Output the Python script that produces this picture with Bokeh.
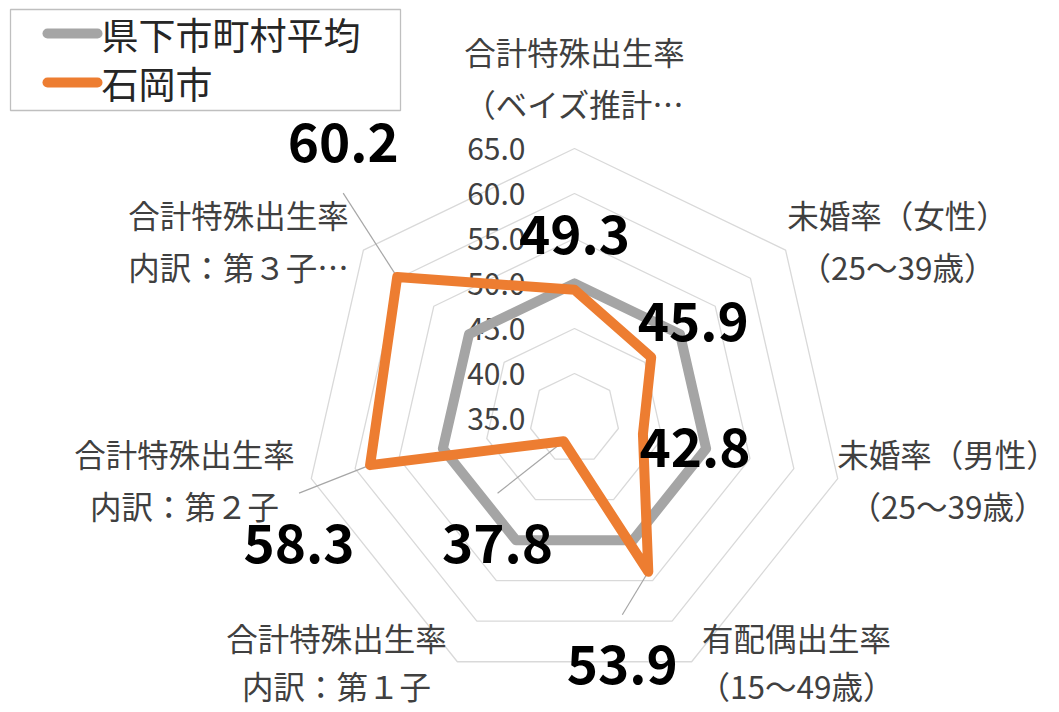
import math
from bokeh.plotting import figure
from bokeh.models import Range1d
from bokeh.core.properties import value
from bokeh.embed import file_html
from bokeh.resources import INLINE

# ---------------- data ----------------
categories_line1 = ["合計特殊出生率", "未婚率（女性）", "未婚率（男性）", "有配偶出生率",
                    "合計特殊出生率", "合計特殊出生率", "合計特殊出生率"]
categories_line2 = ["（ベイズ推計…", "（25～39歳）", "（25～39歳）", "（15～49歳）",
                    "内訳：第１子", "内訳：第２子", "内訳：第３子…"]
series_names = ["県下市町村平均", "石岡市"]
avg_values = [50.0, 50.0, 50.0, 50.0, 50.0, 50.0, 50.0]
ishioka_values = [49.3, 45.9, 42.8, 53.9, 37.8, 58.3, 60.2]
tick_values = [35.0, 40.0, 45.0, 50.0, 55.0, 60.0, 65.0]
tick_labels = ["35.0", "40.0", "45.0", "50.0", "55.0", "60.0", "65.0"]

# ---------------- layout ----------------
CX, CY = 574.0, 418.0          # centre of radar (page px)
VMIN = 35.0
SCALE = 9.0                    # px per unit
N = len(categories_line1)
FONT = "Noto Sans CJK JP"
GRAY = "#A5A5A5"
ORANGE = "#ED7D31"
RING = "#D9D9D9"
TXT = "#404040"

def polar(v, k):
    th = 2 * math.pi * k / N
    r = (v - VMIN) * SCALE
    return CX + r * math.sin(th), CY - r * math.cos(th)

p = figure(width=1059, height=712, output_backend="svg", toolbar_location=None,
           x_range=Range1d(0, 1059), y_range=Range1d(712, 0), min_border=0)
p.axis.visible = False
p.grid.visible = False
p.outline_line_color = None
p.background_fill_color = "white"

# rings
for t in tick_values[1:]:
    xs, ys = zip(*[polar(t, k) for k in range(N + 1)])
    p.line(list(xs), list(ys), line_color=RING, line_width=1.3)

# tick labels
tx = [525] * len(tick_values)
ty = [polar(t, 0)[1] for t in tick_values]
p.text(tx, ty, text=tick_labels, text_align="right", text_baseline="middle",
       text_font=value(FONT), text_font_size="30px", text_color=TXT)

# series lines
def series_xy(vals):
    pts = [polar(v, k) for k, v in enumerate(vals)]
    pts.append(pts[0])
    return [q[0] for q in pts], [q[1] for q in pts]

ax, ay = series_xy(avg_values)
p.line(ax, ay, line_color=GRAY, line_width=10, line_join="round", line_cap="round")
ox, oy = series_xy(ishioka_values)

# data labels (offsets relative to point) and leader lines
lab_off = [(0, -55), (42, -36), (52, 13), (-26, 93), (-66, 102), (-71, 78), (-54, -135)]
leader = [False, False, False, True, True, True, True]
lx, ly = [], []
for k, v in enumerate(ishioka_values):
    px_, py_ = polar(v, k)
    X, Y = px_ + lab_off[k][0], py_ + lab_off[k][1]
    lx.append(X)
    ly.append(Y)
    if leader[k]:
        ey = Y - 50 if lab_off[k][1] > 0 else Y + 51
        p.line([px_, X], [py_, ey], line_color="#A6A6A6", line_width=1.2)

p.line(ox, oy, line_color=ORANGE, line_width=10, line_join="round", line_cap="round")

p.text(lx, ly, text=[f"{v:.1f}" for v in ishioka_values], text_align="center",
       text_baseline="middle", text_font=value(FONT), text_font_size="53px",
       text_font_style="bold", text_color="black")

# category labels
cat_pos = [(574, 50), (897, 213), (947, 452), (796, 636), (336, 636), (184, 452), (238, 213)]
gap = [52, 52, 52, 48, 48, 52, 52]
c1x = [c[0] for c in cat_pos]
c1y = [c[1] for c in cat_pos]
c2y = [c[1] + g for c, g in zip(cat_pos, gap)]
p.text(c1x, c1y, text=categories_line1, text_align="center", text_baseline="middle",
       text_font=value(FONT), text_font_size="31.5px", text_color=TXT)
p.text(c1x, c2y, text=categories_line2, text_align="center", text_baseline="middle",
       text_font=value(FONT), text_font_size="31.5px", text_color=TXT)

# legend
p.quad(left=[10], right=[400], top=[9], bottom=[110], fill_color="white",
       line_color="#BFBFBF", line_width=1.3)
leg_y = [33, 82]
leg_col = [GRAY, ORANGE]
for i in range(2):
    p.line([47, 97], [leg_y[i], leg_y[i]], line_color=leg_col[i], line_width=10, line_cap="round")
p.text([101, 101], leg_y, text=series_names, text_align="left", text_baseline="middle",
       text_font=value(FONT), text_font_size="37px", text_color="#262626")

open("out.html", "w").write(file_html(p, INLINE))
